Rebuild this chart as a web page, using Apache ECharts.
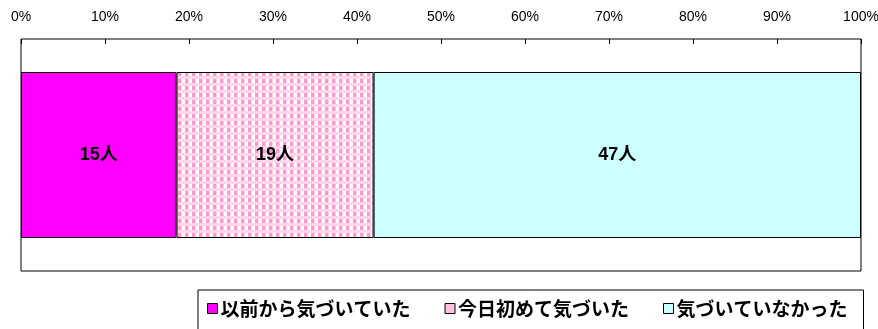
<!DOCTYPE html>
<html>
<head>
<meta charset="utf-8">
<script src="https://cdn.jsdelivr.net/npm/echarts@6/dist/echarts.min.js"></script>
<style>
  html, body { margin: 0; padding: 0; background: #fff; }
  #chart { width: 878px; height: 329px; }
</style>
</head>
<body>
<div id="chart"></div>
<script>
// 人数（横棒を100%に換算して描く）
const seriesNames = ["以前から気づいていた", "今日初めて気づいた", "気づいていなかった"];
const counts = [15, 19, 47];
const tickValues = [0, 10, 20, 30, 40, 50, 60, 70, 80, 90, 100];

const total = counts.reduce((a, b) => a + b, 0);

// 格子模様（ピンクのチェック）
function makeCheck() {
  const c = document.createElement("canvas");
  c.width = 7;
  c.height = 7;
  const g = c.getContext("2d");
  g.fillStyle = "#ffd6ea";
  g.fillRect(0, 0, 7, 7);
  g.fillStyle = "#ffffff";
  g.fillRect(0, 2, 3, 4);
  g.fillStyle = "#ff99cc";
  g.fillRect(3, 2, 3, 4);
  return c;
}

const colors = ["#ff00ff", { image: makeCheck(), repeat: "repeat" }, "#ccffff"];
const legendColors = ["#ff00ff", "#ffc0e0", "#ccffff"];

const chart = echarts.init(document.getElementById("chart"));
chart.setOption({
  animation: false,
  textStyle: { fontFamily: "Liberation Sans, Noto Sans CJK JP" },
  grid: {
    left: 21,
    right: 17,
    top: 39,
    bottom: 58,
    outerBoundsMode: "none",
    show: true,
    borderColor: "#000",
    borderWidth: 1,
  },
  legend: {
    left: 198,
    top: 290,
    padding: [9, 16, 30, 9],
    itemGap: 34,
    itemWidth: 10,
    itemHeight: 10,
    borderColor: "#000",
    borderWidth: 1,
    icon: "rect",
    textStyle: {
      fontFamily: "Noto Sans CJK JP",
      fontWeight: "bold",
      fontSize: 19,
      color: "#000",
      padding: [0, 0, 0, -2],
    },
    data: seriesNames.map((n, i) => ({
      name: n,
      itemStyle: { color: legendColors[i], borderColor: "#000", borderWidth: 1 },
    })),
  },
  xAxis: {
    type: "value",
    position: "top",
    min: 0,
    max: 100,
    interval: 10,
    axisLine: { show: false },
    splitLine: { show: false },
    axisTick: { show: true, inside: true, length: 5, lineStyle: { color: "#000" } },
    axisLabel: {
      margin: 15,
      color: "#000",
      fontSize: 14,
      fontFamily: "Liberation Sans",
      formatter: (v) => v + "%",
    },
  },
  yAxis: {
    type: "category",
    data: [""],
    axisLine: { show: false },
    axisTick: { show: false },
    axisLabel: { show: false },
  },
  series: seriesNames.map((n, i) => ({
    name: n,
    type: "bar",
    stack: "all",
    barWidth: 166,
    itemStyle: { color: colors[i], borderColor: "#000", borderWidth: 1 },
    label: {
      show: true,
      position: "inside",
      color: "#000",
      fontWeight: "bold",
      fontSize: 18,
      fontFamily: "Liberation Sans, Noto Sans CJK JP",
      formatter: () => counts[i] + "人",
    },
    data: [counts[i] / total * 100],
  })),
});
</script>
</body>
</html>
